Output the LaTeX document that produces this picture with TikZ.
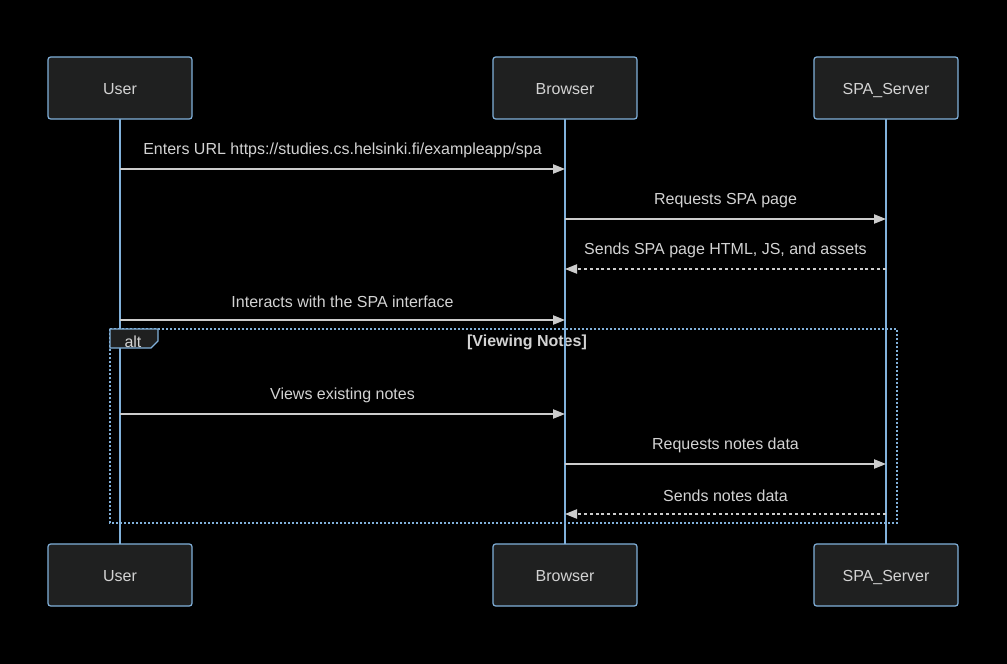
\documentclass[tikz,border=0pt]{standalone}
\usepackage{fontspec}
\setmainfont{Liberation Sans}
\usetikzlibrary{arrows.meta,positioning}

\definecolor{actorbg}{HTML}{1F2020}
\definecolor{actorline}{HTML}{81B1DB}
\definecolor{msgcol}{HTML}{CCCCCC}
\definecolor{txtcol}{HTML}{D3D3D3}

\tikzset{
  actor/.style={draw=actorline, line width=0.9pt, fill=actorbg, rounded corners=2pt,
    minimum width=108pt, minimum height=46.5pt, text=txtcol, inner sep=0pt,
    text height=10.4pt, text depth=1.2pt},
  lifeline/.style={draw=actorline, line width=1.2pt},
  msg/.style={draw=msgcol, line width=0.9pt, -{Triangle[length=9pt,width=7pt]}},
  reply/.style={msg, dash pattern=on 2.2pt off 2.2pt},
  msglabel/.style={text=txtcol, inner sep=0pt}
}

\begin{document}
\begin{tikzpicture}[x=0.75pt, y=-0.75pt, font=\fontsize{12}{14}\selectfont]
% canvas
\fill[black] (0,0) rectangle (1007,664);

% Alt frame (lifelines run over it)
\draw[actorline, line width=1.5pt, dash pattern=on 1.5pt off 1.5pt] (110,329) rectangle (897,523);
\node[msglabel, font=\fontsize{12}{14}\selectfont\bfseries] (altcond) at (527,342.5) {[Viewing Notes]};

% Participants and lifelines
\foreach \name/\x/\txt in {user/120/User, browser/565/Browser, server/886/SPA\_Server} {
    \draw[lifeline] (\x,119) -- (\x,544);
    \node[actor] (\name-top) at (\x,88) {\txt};
    \node[actor] (\name-bot) at (\x,575) {\txt};
}

% Messages before the alt block
\draw[msg] (user-top |- 0,169) -- (browser-top |- 0,169)
    node[msglabel, midway, yshift=13.8pt] {Enters URL https://studies.cs.helsinki.fi/exampleapp/spa};
\draw[msg] (browser-top |- 0,219) -- (server-top |- 0,219)
    node[msglabel, midway, yshift=13.8pt] {Requests SPA page};
\draw[reply] (server-top |- 0,269) -- (browser-top |- 0,269)
    node[msglabel, midway, yshift=13.8pt] {Sends SPA page HTML, JS, and assets};
\draw[msg] (user-top |- 0,320) -- (browser-top |- 0,320)
    node[msglabel, midway, yshift=13.8pt] {Interacts with the SPA interface};

% Alt tab
\draw[actorline, line width=0.9pt, fill=actorbg] (110,329) -- (158,329) -- (158,341) -- (151,348) -- (110,348) -- cycle;
\node[msglabel] (altlabel) at (133,341.5) {alt};

% Messages inside the alt block
\draw[msg] (user-top |- 0,414) -- (browser-top |- 0,414)
    node[msglabel, midway, yshift=13.8pt] {Views existing notes};
\draw[msg] (browser-top |- 0,464) -- (server-top |- 0,464)
    node[msglabel, midway, yshift=13.8pt] {Requests notes data};
\draw[reply] (server-top |- 0,514) -- (browser-top |- 0,514)
    node[msglabel, midway, yshift=13.8pt] {Sends notes data};

\end{tikzpicture}
\end{document}
